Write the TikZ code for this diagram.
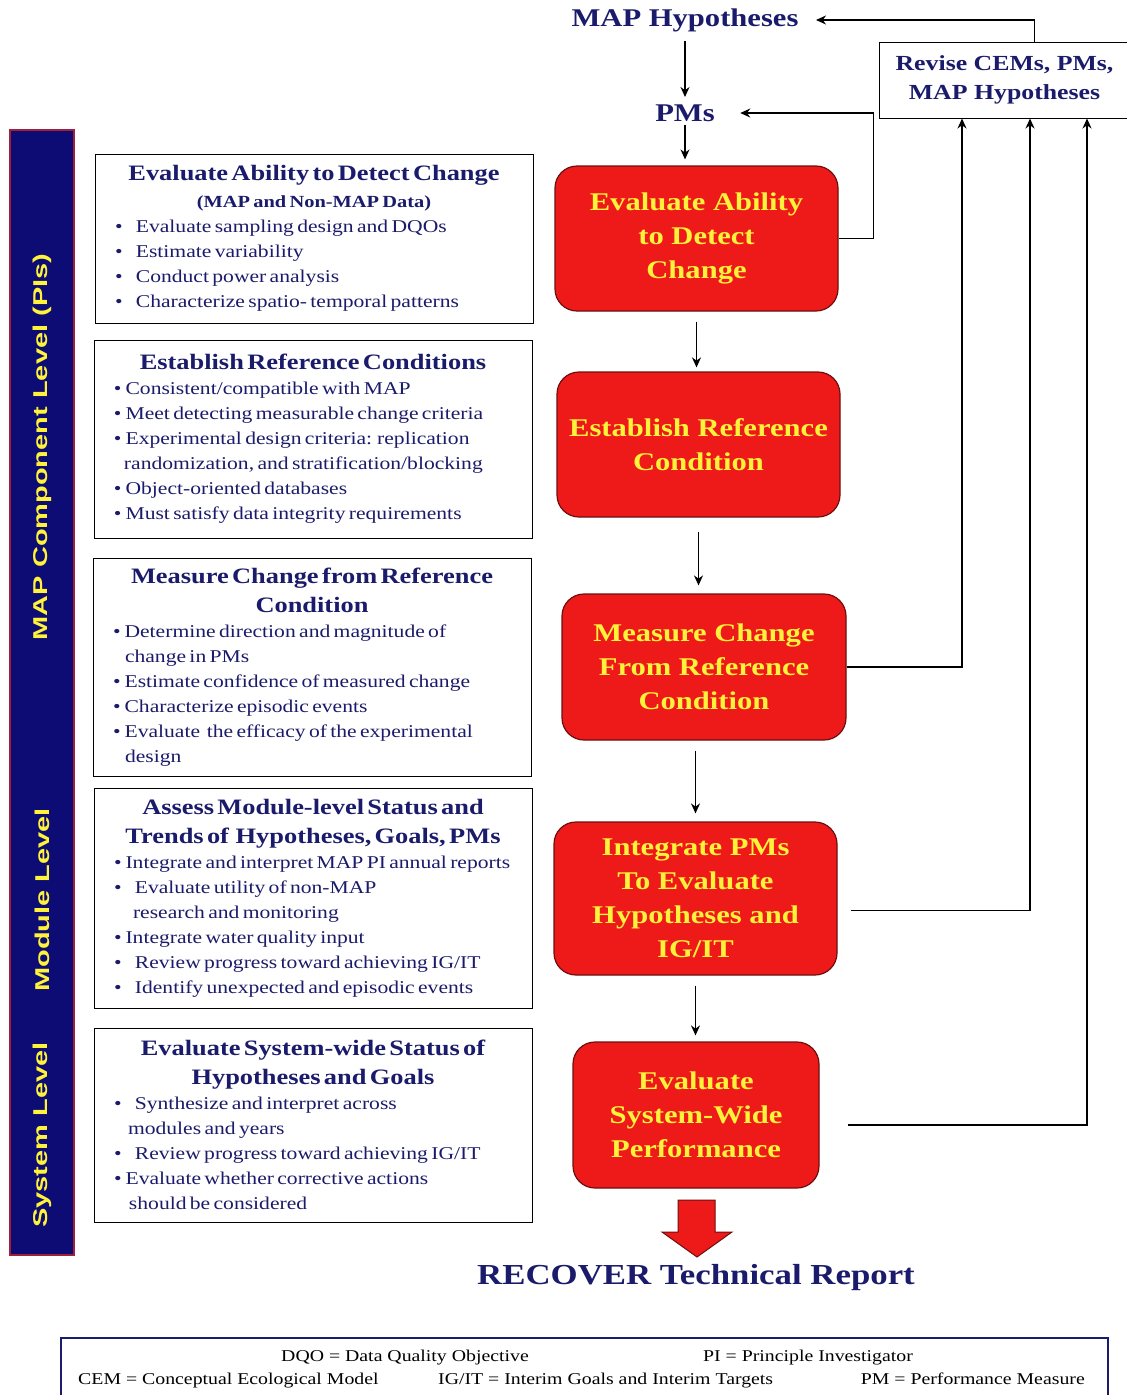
\documentclass[tikz,border=0pt]{standalone}
\usepackage{fontspec}
\setmainfont{Liberation Serif}[FakeStretch=1.2]
\newfontfamily\sidefont{Liberation Sans}[FakeStretch=1.45]
\usetikzlibrary{arrows.meta}

\definecolor{navytext}{HTML}{1B1B6B}
\definecolor{boxred}{HTML}{EE1A1A}
\definecolor{boxedge}{HTML}{6E0F0F}
\definecolor{boxyellow}{HTML}{FFF23A}
\definecolor{barblue}{HTML}{0C0C74}
\definecolor{baredge}{HTML}{A0203C}

\newcommand{\ttl}[1]{{\centering\fontsize{22}{29}\selectfont\bfseries #1\par}}
\newcommand{\itm}[1][4pt]{\hspace*{15pt}\textbullet\hspace{#1}}
\newcommand{\cnt}[1][27pt]{\hspace*{#1}}

\tikzset{
  leftbox/.style={draw=black, line width=1pt, fill=white, minimum width=438,
    inner xsep=5pt, text width=428pt, text=navytext},
  redbox/.style={draw=boxedge, line width=1.2pt, fill=boxred, rounded corners=22pt,
    text=boxyellow, font=\fontsize{25.5}{34}\selectfont\bfseries, align=center, inner sep=2pt},
  hyp/.style={text=navytext, font=\fontsize{25.5}{30}\selectfont\bfseries},
  arr/.style={-{Stealth[length=10pt,width=9pt]}, line width=1.2pt},
  sidetext/.style={rotate=90, text=boxyellow, font=\sidefont\fontsize{20}{24}\selectfont\bfseries},
  note/.style={text=black, font=\fontsize{16.5}{20}\selectfont, inner sep=0pt, anchor=base}
}

\begin{document}
\begin{tikzpicture}[x=1pt,y=-1pt]
\useasboundingbox[fill=white] (0,0) rectangle (1127,1395);

% level bar on the left
\node[draw=baredge, fill=barblue, line width=1.5pt, minimum width=64, minimum height=1125, inner sep=0pt] (bar) at (42,692.5) {};
\node[sidetext] (lvlpi) at (42,447) {MAP Component Level (PIs)};
\node[sidetext] (lvlmod) at (42,900) {Module Level};
\node[sidetext] (lvlsys) at (42,1135) {System Level};

% task descriptions
\node[leftbox, minimum height=169] (task1) at (314,238.5) {%
  \ttl{Evaluate Ability to Detect Change}
  {\centering\fontsize{17}{27}\selectfont\bfseries (MAP and Non-MAP Data)\par}
  {\raggedright\fontsize{18}{25}\selectfont
  \itm[10pt] Evaluate sampling design and DQOs\\
  \itm[10pt] Estimate variability\\
  \itm[10pt] Conduct power analysis\\
  \itm[10pt] Characterize spatio- temporal patterns\par}};
\node[leftbox, minimum height=198] (task2) at (313,439) {%
  \ttl{Establish Reference Conditions}
  {\raggedright\fontsize{18}{25}\selectfont
  \itm Consistent/compatible with MAP\\
  \itm Meet detecting measurable change criteria\\
  \itm Experimental design criteria: replication\\
  \cnt[25pt]randomization, and stratification/blocking\\
  \itm Object-oriented databases\\
  \itm Must satisfy data integrity requirements\par}};
\node[leftbox, minimum height=218] (task3) at (312,667) {%
  \ttl{Measure Change from Reference\\ Condition}
  {\raggedright\fontsize{18}{25}\selectfont
  \itm Determine direction and magnitude of\\
  \cnt change in PMs\\
  \itm Estimate confidence of measured change\\
  \itm Characterize episodic events\\
  \itm Evaluate\ \ the efficacy of the experimental\\
  \cnt design\par}};
\node[leftbox, minimum height=220] (task4) at (313,898) {%
  \ttl{Assess Module-level Status and\\ Trends of\ \ Hypotheses, Goals, PMs}
  {\raggedright\fontsize{18}{25}\selectfont
  \itm Integrate and interpret MAP PI annual reports\\
  \itm[10pt] Evaluate utility of non-MAP\\
  \cnt[34pt]research and monitoring\\
  \itm Integrate water quality input\\
  \itm[10pt] Review progress toward achieving IG/IT\\
  \itm[10pt] Identify unexpected and episodic events\par}};
\node[leftbox, minimum height=194] (task5) at (313,1125) {%
  \ttl{Evaluate System-wide Status of\\ Hypotheses and Goals}
  {\raggedright\fontsize{18}{25}\selectfont
  \itm[10pt] Synthesize and interpret across\\
  \cnt[29pt]modules and years\\
  \itm[10pt] Review progress toward achieving IG/IT\\
  \itm Evaluate whether corrective actions\\
  \cnt[30pt]should be considered\par}};

% process steps
\node[redbox, minimum width=283, minimum height=145] (ev1) at (696.5,238.5) {Evaluate Ability\\ to Detect\\ Change};
\node[redbox, minimum width=283, minimum height=145] (ev2) at (698.5,444.5) {Establish Reference\\ Condition};
\node[redbox, minimum width=284, minimum height=146] (ev3) at (704,667) {Measure Change\\ From Reference\\ Condition};
\node[redbox, minimum width=283, minimum height=153] (ev4) at (695.5,898.5) {Integrate PMs\\ To Evaluate\\ Hypotheses and\\ IG/IT};
\node[redbox, minimum width=246, minimum height=146] (ev5) at (696,1115) {Evaluate\\ System-Wide\\ Performance};

\node[hyp] (maph) at (685,20) {MAP Hypotheses};
\node[hyp] (pms) at (685,113) {PMs};
\node[draw, line width=1pt, minimum width=251, minimum height=76, text=navytext,
  font=\fontsize{21.5}{29}\selectfont\bfseries, align=center] (revise) at (1004.5,80) {Revise CEMs, PMs,\\ MAP Hypotheses};

% main flow
\draw[arr, shorten <=6pt, shorten >=4pt] (maph) -- (pms);
\draw[arr, shorten >=6pt] (pms) -- (pms |- ev1.north);
\draw[arr, shorten <=10pt, shorten >=4pt] (ev1.south) -- (ev1.south |- ev2.north);
\draw[arr, shorten <=14pt, shorten >=8pt] (ev2.south) -- (ev2.south |- ev3.north);
\draw[arr, shorten <=10pt, shorten >=8pt] (ev4.north |- ev3.south) -- (ev4.north);
\draw[arr, shorten <=10pt, shorten >=6pt] (ev4.south) -- (ev4.south |- ev5.north);

% feedback loops
\draw[arr, shorten >=22pt] (ev1.east) -- ++(35,0) |- (pms.east);
\draw[arr, shorten >=14pt] ([xshift=30pt]revise.north) |- (maph.east);
\draw[arr] (ev3.east) -| ([xshift=-42.5pt]revise.south);
\draw[arr] ([shift={(13pt,-12pt)}]ev4.east) -| ([xshift=25.5pt]revise.south);
\draw[arr] ([shift={(28pt,-10pt)}]ev5.east) -| ([xshift=82.5pt]revise.south);

% output
\fill[boxred, draw=boxedge, line width=1pt] (678,1200) -- (715,1200) -- (715,1232) -- (732,1232)
  -- (697,1257) -- (662,1232) -- (678,1232) -- cycle;
\node[text=navytext, font=\fontsize{29}{34}\selectfont\bfseries] (report) at (696,1278) {RECOVER Technical Report};

% glossary
\node[draw=navytext, line width=1.5pt, minimum width=1047, minimum height=70, anchor=north west] (gloss) at (60,1337) {};
\node[note] (gdqo) at (405,1361) {DQO = Data Quality Objective};
\node[note] (gpi) at (808,1361) {PI = Principle Investigator};
\node[note, anchor=base west] (gcem) at (78,1384) {CEM = Conceptual Ecological Model};
\node[note, anchor=base west] (gigit) at (438,1384) {IG/IT = Interim Goals and Interim Targets};
\node[note, anchor=base east] (gpm) at (1085,1384) {PM = Performance Measure};
\end{tikzpicture}
\end{document}
